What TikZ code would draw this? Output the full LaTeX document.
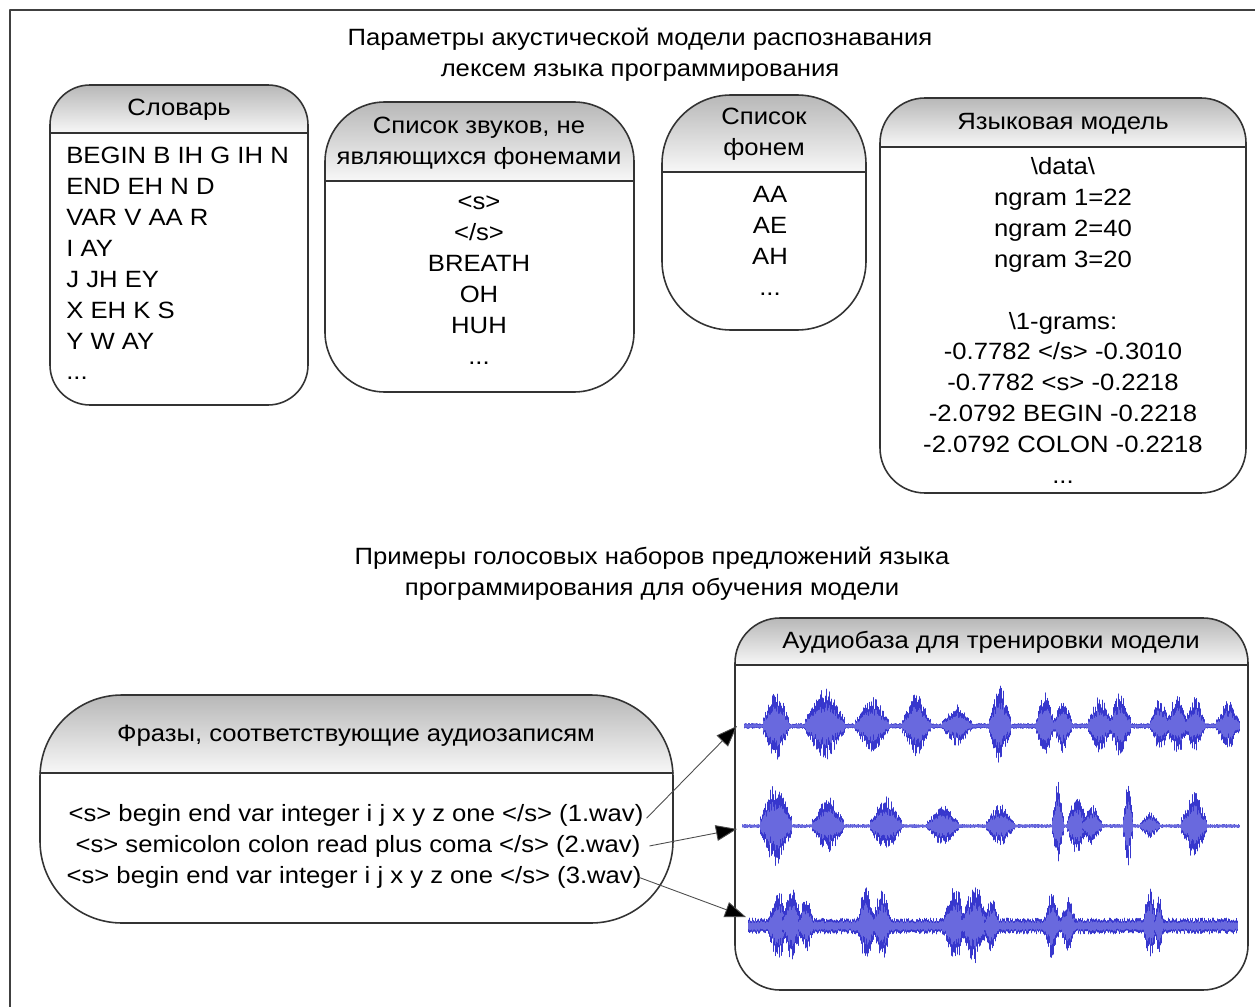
\documentclass[tikz,border=0pt]{standalone}
\usepackage{fontspec}
\setmainfont{Liberation Sans}[FakeStretch=1.09]
\usetikzlibrary{arrows.meta,calc}

\definecolor{wavedark}{RGB}{55,55,205}
\definecolor{wavelight}{RGB}{105,105,222}

\tikzset{
  txt/.style={font=\fontsize{13.4pt}{17.6pt}\selectfont, inner sep=0pt, align=center},
  frame/.style={draw=black!80, line width=0.9pt},
  headshade/.style={top color=black!28, bottom color=black!3},
  link/.style={draw=black!70, line width=0.5pt, -{Triangle[length=12pt,width=9pt,fill=black]}},
}

% rounded panel with shaded header: x1,y1,x2,y2,header line,radius
\newcommand{\drawpanel}[6]{%
  \begin{scope}
    \clip[rounded corners=#6] (#1,#2) rectangle (#3,#4);
    \shade[headshade] (#1,#2) rectangle (#3,#5);
  \end{scope}
  \draw[frame, rounded corners=#6] (#1,#2) rectangle (#3,#4);
  \draw[frame] (#1,#5) -- (#3,#5);
}

% one burst of a waveform: baseline, centre, half width, amplitude
\newcommand{\burst}[4]{%
  \pgfmathtruncatemacro\nb{2*#3/0.7}
  \foreach \k in {0,...,\nb}{
    \pgfmathsetmacro\tpos{(\k*0.7-#3)/#3}
    \pgfmathsetmacro\envl{#4*exp(-1.6*\tpos*\tpos)}
    \pgfmathsetmacro\hup{\envl*(0.55+0.45*rnd)}
    \pgfmathsetmacro\hdn{\envl*(0.45+0.45*rnd)}
    \pgfmathsetmacro\xx{#2-#3+\k*0.7}
    \draw[wavedark, line width=0.55pt] (\xx,#1-\hup) -- (\xx,#1+\hdn);
    \draw[wavelight, line width=0.55pt] (\xx,#1-0.6*\hup) -- (\xx,#1+0.6*\hdn);
  }
}

% background noise of a waveform: baseline, x start, x end, amplitude
\newcommand{\wavenoise}[4]{%
  \pgfmathtruncatemacro\nn{(#3-#2)/0.8}
  \foreach \k in {0,...,\nn}{
    \pgfmathsetmacro\xx{#2+\k*0.8}
    \pgfmathsetmacro\hup{#4*(0.5+0.5*rnd)}
    \pgfmathsetmacro\hdn{#4*(0.5+0.5*rnd)}
    \draw[wavedark, line width=0.5pt] (\xx,#1-\hup) -- (\xx,#1+\hdn);
    \draw[wavelight, line width=0.5pt] (\xx,#1-0.6*\hup) -- (\xx,#1+0.6*\hdn);
  }
}

\begin{document}
\begin{tikzpicture}[x=0.02cm,y=-0.02cm,line cap=round,line join=round]
\useasboundingbox (0,0) rectangle (1255,1007);
\pgfmathsetseed{2718}

% outer frame
\draw[draw=black!75, line width=1.4pt] (10,1007) -- (10,10) -- (1255,10);

% titles
\node[txt] (title1) at (640,54.5) {Параметры акустической модели распознавания\\лексем языка программирования};
\node[txt] (title2) at (652,574) {Примеры голосовых наборов предложений языка\\программирования для обучения модели};

% panels
\drawpanel{50}{85}{308}{405}{133}{0.8cm}
\drawpanel{325}{102}{634}{392}{181}{1.2cm}
\drawpanel{662}{95}{866}{330}{172}{1.38cm}
\drawpanel{880}{98}{1246}{493}{147}{0.9cm}
\drawpanel{40}{695}{673}{923}{773}{1.64cm}
\drawpanel{735}{618}{1248}{990}{665}{0.9cm}

% dictionary
\node[txt, anchor=base] (dicthead) at (179,116) {Словарь};
\node[txt, anchor=west, align=left] (dict) at (66,263.5) {BEGIN B IH G IH N\\END EH N D\\VAR V AA R\\I AY\\J JH EY\\X EH K S\\Y W AY\\...};

% non-phoneme sounds
\node[txt] (fillhead) at (479,143) {Список звуков, не\\являющихся фонемами};
\node[txt] (fill) at (479,280) {<s>\\</s>\\BREATH\\OH\\HUH\\...};

% phonemes
\node[txt] (phonhead) at (764,134) {Список\\фонем};
\node[txt] (phon) at (770,241) {AA\\AE\\AH\\...};

% language model
\node[txt, anchor=base] (lmhead) at (1063,130) {Языковая модель};
\node[txt] (lm) at (1063,320.5) {\textbackslash data\textbackslash\\ngram 1=22\\ngram 2=40\\ngram 3=20\\~\\\textbackslash 1-grams:\\-0.7782 </s> -0.3010\\-0.7782 <s> -0.2218\\-2.0792 BEGIN -0.2218\\-2.0792 COLON -0.2218\\...};

% phrases
\node[txt, anchor=base] (phrhead) at (356,741) {Фразы, соответствующие аудиозаписям};
\node[txt, anchor=base] (p1) at (356,821) {<s> begin end var integer i j x y z one </s> (1.wav)};
\node[txt, anchor=base] (p2) at (358,852) {<s> semicolon colon read plus coma </s> (2.wav)};
\node[txt, anchor=base] (p3) at (354,883) {<s> begin end var integer i j x y z one </s> (3.wav)};

% audio base
\node[txt, anchor=base] (audiohead) at (991,648) {Аудиобаза для тренировки модели};

% waveforms
\wavenoise{726}{744}{1238}{2.5}
\foreach \c/\w/\a in {776/13/38,825/20/38,872/17/30,916/14/35,957/15/22,1000/11/42,1045/9/36,1063/9/30,1100/12/30,1120/11/34,1160/10/28,1177/10/34,1195/10/30,1228/12/26}
  \burst{726}{\c}{\w}{\a};
\wavenoise{826}{742}{1240}{1.5}
\foreach \c/\w/\a in {776/16/44,828/16/30,886/16/30,943/16/22,1000/14/22,1058/6/46,1077/10/32,1092/10/22,1128/5/46,1150/10/14,1194/13/36}
  \burst{826}{\c}{\w}{\a};
\wavenoise{926}{748}{1238}{8}
\foreach \c/\w/\a in {778/10/40,792/10/40,806/8/30,866/9/40,882/9/40,955/12/42,975/14/42,992/8/30,1052/8/38,1068/8/30,1150/7/40,1159/5/30}
  \burst{926}{\c}{\w}{\a};

% arrows to the recordings
\coordinate (a1) at (737,726);
\coordinate (a2) at (737,829);
\coordinate (a3) at (746,917);
\draw[link] ($(p1.base east)+(3,-3)$) -- (a1);
\draw[link] ($(p2.east)+(9,0)$) -- (a2);
\draw[link] ($(p3.east)+(-4,0)$) -- (a3);
\end{tikzpicture}
\end{document}
